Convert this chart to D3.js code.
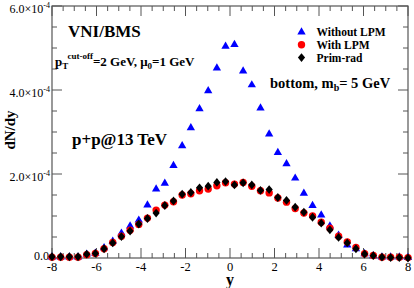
<!DOCTYPE html>
<html>
<head>
<meta charset="utf-8">
<script src="https://cdn.jsdelivr.net/npm/d3@7"></script>
<style>
  body { margin: 0; background: #fff; }
  svg { display: block; font-family: "Liberation Serif", "DejaVu Serif", serif; }
  .lbl { font-weight: bold; fill: #000; }
</style>
</head>
<body>
<div id="chart"></div>
<script>
// rapidity bin centres
var rapidity = [-8.00, -7.61, -7.22, -6.83, -6.44, -6.05, -5.66, -5.27, -4.88, -4.49,
  -4.10, -3.71, -3.32, -2.93, -2.54, -2.15, -1.76, -1.37, -0.98, -0.59,
  -0.20, 0.20, 0.59, 0.98, 1.37, 1.76, 2.15, 2.54, 2.93, 3.32,
  3.71, 4.10, 4.49, 4.88, 5.27, 5.66, 6.05, 6.44, 6.83, 7.22,
  7.61, 8.00];

// dN/dy in units of 1e-4
var withoutLPM = [0.02, 0.02, 0.02, 0.02, 0.09, 0.11, 0.24, 0.40, 0.59, 0.76,
  0.90, 1.26, 1.64, 1.78, 2.20, 2.67, 3.10, 3.55, 3.98, 4.52,
  5.04, 5.08, 4.45, 4.12, 3.57, 2.95, 2.51, 2.24, 1.90, 1.54,
  1.25, 1.02, 0.76, 0.54, 0.31, 0.22, 0.10, 0.05, 0.02, 0.02,
  0.02, 0.01];
var withLPM = [0.02, 0.02, 0.02, 0.02, 0.08, 0.11, 0.22, 0.37, 0.52, 0.66,
  0.80, 0.95, 1.14, 1.26, 1.34, 1.50, 1.53, 1.60, 1.64, 1.72,
  1.79, 1.76, 1.80, 1.71, 1.60, 1.55, 1.43, 1.33, 1.18, 1.07,
  1.00, 0.85, 0.71, 0.52, 0.38, 0.25, 0.10, 0.06, 0.02, 0.02,
  0.02, 0.01];
var primRad = [0.03, 0.03, 0.03, 0.03, 0.09, 0.11, 0.22, 0.36, 0.51, 0.64,
  0.81, 0.94, 1.07, 1.25, 1.36, 1.52, 1.56, 1.67, 1.71, 1.80,
  1.82, 1.74, 1.79, 1.74, 1.61, 1.63, 1.44, 1.37, 1.21, 1.09,
  0.97, 0.83, 0.67, 0.49, 0.36, 0.22, 0.095, 0.055, 0.02, 0.01,
  0.01, 0.0];

var xTicks = [-8, -6, -4, -2, 0, 2, 4, 6, 8];
var yTicks = [0, 2, 4, 6];
var yTickMant = ["0.0", "2.0", "4.0", "6.0"];
var legendNames = ["Without LPM", "With LPM", "Prim-rad"];

var svgWidth = 414, svgHeight = 288;
var margin = { top: 6, right: 6, bottom: 30, left: 52 };
var width = svgWidth - margin.left - margin.right;
var height = svgHeight - margin.top - margin.bottom;

var svg = d3.select("#chart").append("svg")
  .attr("width", svgWidth)
  .attr("height", svgHeight);

var g = svg.append("g")
  .attr("transform", `translate(${margin.left}, ${margin.top})`);

var x = d3.scaleLinear().domain([-8, 8]).range([0, width]);
var y = d3.scaleLinear().domain([0, 6]).range([height, 0]);

var axisColor = "#555";

// frame
g.append("rect")
  .attr("width", width).attr("height", height)
  .attr("fill", "none").attr("stroke", axisColor).attr("stroke-width", 1.2);

// ticks inward on all four sides
var xMinor = d3.range(-8, 8.01, 0.5);
var yMinor = d3.range(0, 6.01, 0.5);

function tickLen(v, step) { return Math.abs(v / step - Math.round(v / step)) < 1e-6 ? 10 : 5; }

var ticks = g.append("g").attr("stroke", axisColor).attr("stroke-width", 1);
xMinor.forEach(function(v) {
  var L = tickLen(v, 2);
  ticks.append("line").attr("x1", x(v)).attr("x2", x(v)).attr("y1", height).attr("y2", height - L);
  ticks.append("line").attr("x1", x(v)).attr("x2", x(v)).attr("y1", 0).attr("y2", L);
});
yMinor.forEach(function(v) {
  var L = tickLen(v, 2);
  ticks.append("line").attr("y1", y(v)).attr("y2", y(v)).attr("x1", 0).attr("x2", L);
  ticks.append("line").attr("y1", y(v)).attr("y2", y(v)).attr("x1", width).attr("x2", width - L);
});

// x tick labels
g.append("g").selectAll("text").data(xTicks).enter().append("text")
  .attr("x", d => x(d)).attr("y", height + 13)
  .attr("text-anchor", "middle")
  .attr("font-size", 12.5)
  .text(d => d);

// y tick labels
var yl = g.append("g").selectAll("text").data(yTicks).enter().append("text")
  .attr("x", d => d === 0 ? -3 : -2).attr("y", d => y(d) + (d === 0 ? 2 : 7))
  .attr("text-anchor", "end")
  .attr("font-size", 12);
yl.append("tspan").text((d, i) => d === 0 ? yTickMant[i] : yTickMant[i] + "\u00d710");
yl.filter(d => d !== 0).append("tspan")
  .attr("font-size", 8).attr("dy", -5).text("-4");

// axis titles
g.append("text").attr("class", "lbl")
  .attr("x", x(0)).attr("y", height + 26.5)
  .attr("text-anchor", "middle").attr("font-size", 16)
  .text("y");
svg.append("text").attr("class", "lbl")
  .attr("transform", "translate(15, 130) rotate(-90)")
  .attr("text-anchor", "middle").attr("font-size", 15)
  .text("dN/dy");

// symbols
var tri = d3.symbol().type(d3.symbolTriangle).size(30);
var dia = function(d) { return "M0,-4.4L3.6,0L0,4.4L-3.6,0Z"; };

var pts = g.append("g");
pts.selectAll(".blue").data(withoutLPM).enter().append("path")
  .attr("transform", (d, i) => `translate(${x(rapidity[i])},${y(d)})`)
  .attr("d", tri).attr("fill", "#0000ff");
pts.selectAll(".red").data(withLPM).enter().append("circle")
  .attr("cx", (d, i) => x(rapidity[i])).attr("cy", d => y(d))
  .attr("r", 3.7).attr("fill", "#ff0000");
pts.selectAll(".blk").data(primRad).enter().append("path")
  .attr("transform", (d, i) => `translate(${x(rapidity[i])},${y(d)})`)
  .attr("d", dia).attr("fill", "#000");

// annotations
svg.append("text").attr("class", "lbl").attr("x", 68).attr("y", 37)
  .attr("font-size", 17).text("VNI/BMS");

var pt = svg.append("text").attr("class", "lbl").attr("x", 55).attr("y", 66).attr("font-size", 13);
pt.append("tspan").text("p");
pt.append("tspan").attr("font-size", 9).attr("dy", 3).text("T");
pt.append("tspan").attr("font-size", 9).attr("dy", -10).text("cut-off");
pt.append("tspan").attr("dy", 7).text("=2 GeV, \u03bc");
pt.append("tspan").attr("font-size", 9).attr("dy", 3).text("0");
pt.append("tspan").attr("dy", -3).text("=1 GeV");

var mb = svg.append("text").attr("class", "lbl").attr("x", 270).attr("y", 88).attr("font-size", 14.5);
mb.append("tspan").text("bottom, m");
mb.append("tspan").attr("font-size", 10).attr("dy", 3).text("b");
mb.append("tspan").attr("dy", -3).text("= 5 GeV");

svg.append("text").attr("class", "lbl").attr("x", 72).attr("y", 145)
  .attr("font-size", 17).text("p+p@13 TeV");

// legend
var leg = svg.append("g").attr("transform", "translate(301.5, 0)");
var legY = [32, 44.8, 57.6];
leg.append("path").attr("transform", `translate(0,${legY[0]})`).attr("d", tri).attr("fill", "#0000ff");
leg.append("circle").attr("cy", legY[1]).attr("r", 3.7).attr("fill", "#ff0000");
leg.append("path").attr("transform", `translate(0,${legY[2]})`).attr("d", dia).attr("fill", "#000");
leg.selectAll("text").data(legendNames).enter().append("text")
  .attr("class", "lbl").attr("x", 15).attr("y", (d, i) => legY[i] + 4)
  .attr("font-size", 11.5).text(d => d);
</script>
</body>
</html>
